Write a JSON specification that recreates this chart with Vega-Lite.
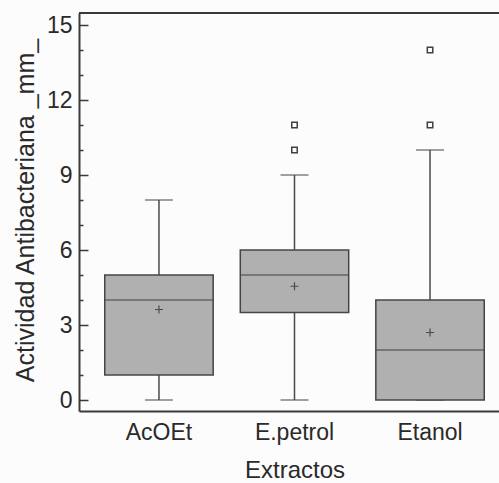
{
  "$schema": "https://vega.github.io/schema/vega-lite/v6.json",
  "width": 420,
  "height": 398,
  "autosize": {"type": "none"},
  "padding": {"left": 79, "top": 13, "right": 0, "bottom": 72},
  "background": "#fcfcfc",
  "config": {
    "view": {"stroke": null},
    "font": "Liberation Sans",
    "axis": {"labelFont": "Liberation Sans", "titleFont": "Liberation Sans", "labelColor": "#2a2a2a", "titleColor": "#2a2a2a", "titleFontWeight": "normal", "domainColor": "#3a3a3a", "domainWidth": 2, "tickColor": "#3a3a3a", "tickWidth": 1.5, "grid": false},
    "axisY": {"tickCount": 16, "labelFontSize": 23, "titleFontSize": 25, "labelPadding": 16, "labelOverlap": false, "titleX": -46, "titleY": 197, "titleAlign": "center", "titleBaseline": "alphabetic", "titleAngle": -90}
  },
  "datasets": {
    "boxes": [
      {"Extracto": "AcOEt", "min": 0, "q1": 1, "median": 4, "q3": 5, "max": 8, "mean": 3.62},
      {"Extracto": "E.petrol", "min": 0, "q1": 3.5, "median": 5, "q3": 6, "max": 9, "mean": 4.55},
      {"Extracto": "Etanol", "min": 0, "q1": 0, "median": 2, "q3": 4, "max": 10, "mean": 2.7}
    ],
    "outliers": [
      {"Extracto": "E.petrol", "value": 10},
      {"Extracto": "E.petrol", "value": 11},
      {"Extracto": "Etanol", "value": 11},
      {"Extracto": "Etanol", "value": 14}
    ]
  },
  "layer": [
    {
      "data": {"name": "boxes"},
      "mark": {"type": "rule", "color": "#4a4a4a", "strokeWidth": 1.5},
      "encoding": {
        "x": {
          "field": "Extracto", "type": "nominal", "sort": ["AcOEt", "E.petrol", "Etanol"],
          "scale": {"type": "band", "paddingInner": 0.2, "paddingOuter": 0.19, "range": [0, 431]},
          "axis": {"title": "Extractos", "labelAngle": 0, "labelFontSize": 23, "titleFontSize": 24, "ticks": false, "labelPadding": 10, "titlePadding": 14}
        },
        "y": {"field": "min", "type": "quantitative",
          "scale": {"domain": [-0.44, 15.48], "nice": false, "zero": false},
          "axis": {"title": "Actividad Antibacteriana _mm_", "values": [0,1,2,3,4,5,6,7,8,9,10,11,12,13,14,15],
            "labelExpr": "datum.value % 3 === 0 ? datum.label : ''",
            "tickSize": {"condition": {"test": "datum.value % 3 === 0", "value": -9}, "value": -4}}},
        "y2": {"field": "q1"}
      }
    },
    {
      "data": {"name": "boxes"},
      "mark": {"type": "rule", "color": "#4a4a4a", "strokeWidth": 1.5},
      "encoding": {"x": {"field": "Extracto", "type": "nominal"}, "y": {"field": "q3", "type": "quantitative",
          "axis": {"title": "Actividad Antibacteriana _mm_", "values": [0,1,2,3,4,5,6,7,8,9,10,11,12,13,14,15],
            "labelExpr": "datum.value % 3 === 0 ? datum.label : ''",
            "tickSize": {"condition": {"test": "datum.value % 3 === 0", "value": -9}, "value": -4}}}, "y2": {"field": "max"}}
    },
    {
      "data": {"name": "boxes"},
      "mark": {"type": "tick", "color": "#4a4a4a", "thickness": 1.5, "size": 28},
      "encoding": {"x": {"field": "Extracto", "type": "nominal"}, "y": {"field": "min", "type": "quantitative",
          "axis": {"title": "Actividad Antibacteriana _mm_", "values": [0,1,2,3,4,5,6,7,8,9,10,11,12,13,14,15],
            "labelExpr": "datum.value % 3 === 0 ? datum.label : ''",
            "tickSize": {"condition": {"test": "datum.value % 3 === 0", "value": -9}, "value": -4}}}}
    },
    {
      "data": {"name": "boxes"},
      "mark": {"type": "tick", "color": "#4a4a4a", "thickness": 1.5, "size": 28},
      "encoding": {"x": {"field": "Extracto", "type": "nominal"}, "y": {"field": "max", "type": "quantitative",
          "axis": {"title": "Actividad Antibacteriana _mm_", "values": [0,1,2,3,4,5,6,7,8,9,10,11,12,13,14,15],
            "labelExpr": "datum.value % 3 === 0 ? datum.label : ''",
            "tickSize": {"condition": {"test": "datum.value % 3 === 0", "value": -9}, "value": -4}}}}
    },
    {
      "data": {"name": "boxes"},
      "mark": {"type": "bar", "fill": "#b0b0b0", "stroke": "#454545", "strokeWidth": 1.5, "width": {"band": 1}},
      "encoding": {"x": {"field": "Extracto", "type": "nominal"}, "y": {"field": "q1", "type": "quantitative",
          "axis": {"title": "Actividad Antibacteriana _mm_", "values": [0,1,2,3,4,5,6,7,8,9,10,11,12,13,14,15],
            "labelExpr": "datum.value % 3 === 0 ? datum.label : ''",
            "tickSize": {"condition": {"test": "datum.value % 3 === 0", "value": -9}, "value": -4}}}, "y2": {"field": "q3"}}
    },
    {
      "data": {"name": "boxes"},
      "mark": {"type": "tick", "color": "#454545", "thickness": 1.5, "size": 108},
      "encoding": {"x": {"field": "Extracto", "type": "nominal"}, "y": {"field": "median", "type": "quantitative",
          "axis": {"title": "Actividad Antibacteriana _mm_", "values": [0,1,2,3,4,5,6,7,8,9,10,11,12,13,14,15],
            "labelExpr": "datum.value % 3 === 0 ? datum.label : ''",
            "tickSize": {"condition": {"test": "datum.value % 3 === 0", "value": -9}, "value": -4}}}}
    },
    {
      "data": {"name": "boxes"},
      "mark": {"type": "point", "shape": "M-1,0H1M0,-1V1", "size": 64, "filled": false, "stroke": "#4a4a4a", "strokeWidth": 1.2, "opacity": 1},
      "encoding": {"x": {"field": "Extracto", "type": "nominal"}, "y": {"field": "mean", "type": "quantitative",
          "axis": {"title": "Actividad Antibacteriana _mm_", "values": [0,1,2,3,4,5,6,7,8,9,10,11,12,13,14,15],
            "labelExpr": "datum.value % 3 === 0 ? datum.label : ''",
            "tickSize": {"condition": {"test": "datum.value % 3 === 0", "value": -9}, "value": -4}}}}
    },
    {
      "data": {"name": "outliers"},
      "mark": {"type": "point", "shape": "square", "size": 30, "filled": false, "stroke": "#404040", "strokeWidth": 1.5, "opacity": 1},
      "encoding": {"x": {"field": "Extracto", "type": "nominal"}, "y": {"field": "value", "type": "quantitative",
          "axis": {"title": "Actividad Antibacteriana _mm_", "values": [0,1,2,3,4,5,6,7,8,9,10,11,12,13,14,15],
            "labelExpr": "datum.value % 3 === 0 ? datum.label : ''",
            "tickSize": {"condition": {"test": "datum.value % 3 === 0", "value": -9}, "value": -4}}}}
    },
    {
      "data": {"values": [{"top": 15.48}]},
      "mark": {"type": "rule", "color": "#3a3a3a", "strokeWidth": 2},
      "encoding": {"y": {"field": "top", "type": "quantitative",
          "axis": {"title": "Actividad Antibacteriana _mm_", "values": [0,1,2,3,4,5,6,7,8,9,10,11,12,13,14,15],
            "labelExpr": "datum.value % 3 === 0 ? datum.label : ''",
            "tickSize": {"condition": {"test": "datum.value % 3 === 0", "value": -9}, "value": -4}}}}
    }
  ]
}
